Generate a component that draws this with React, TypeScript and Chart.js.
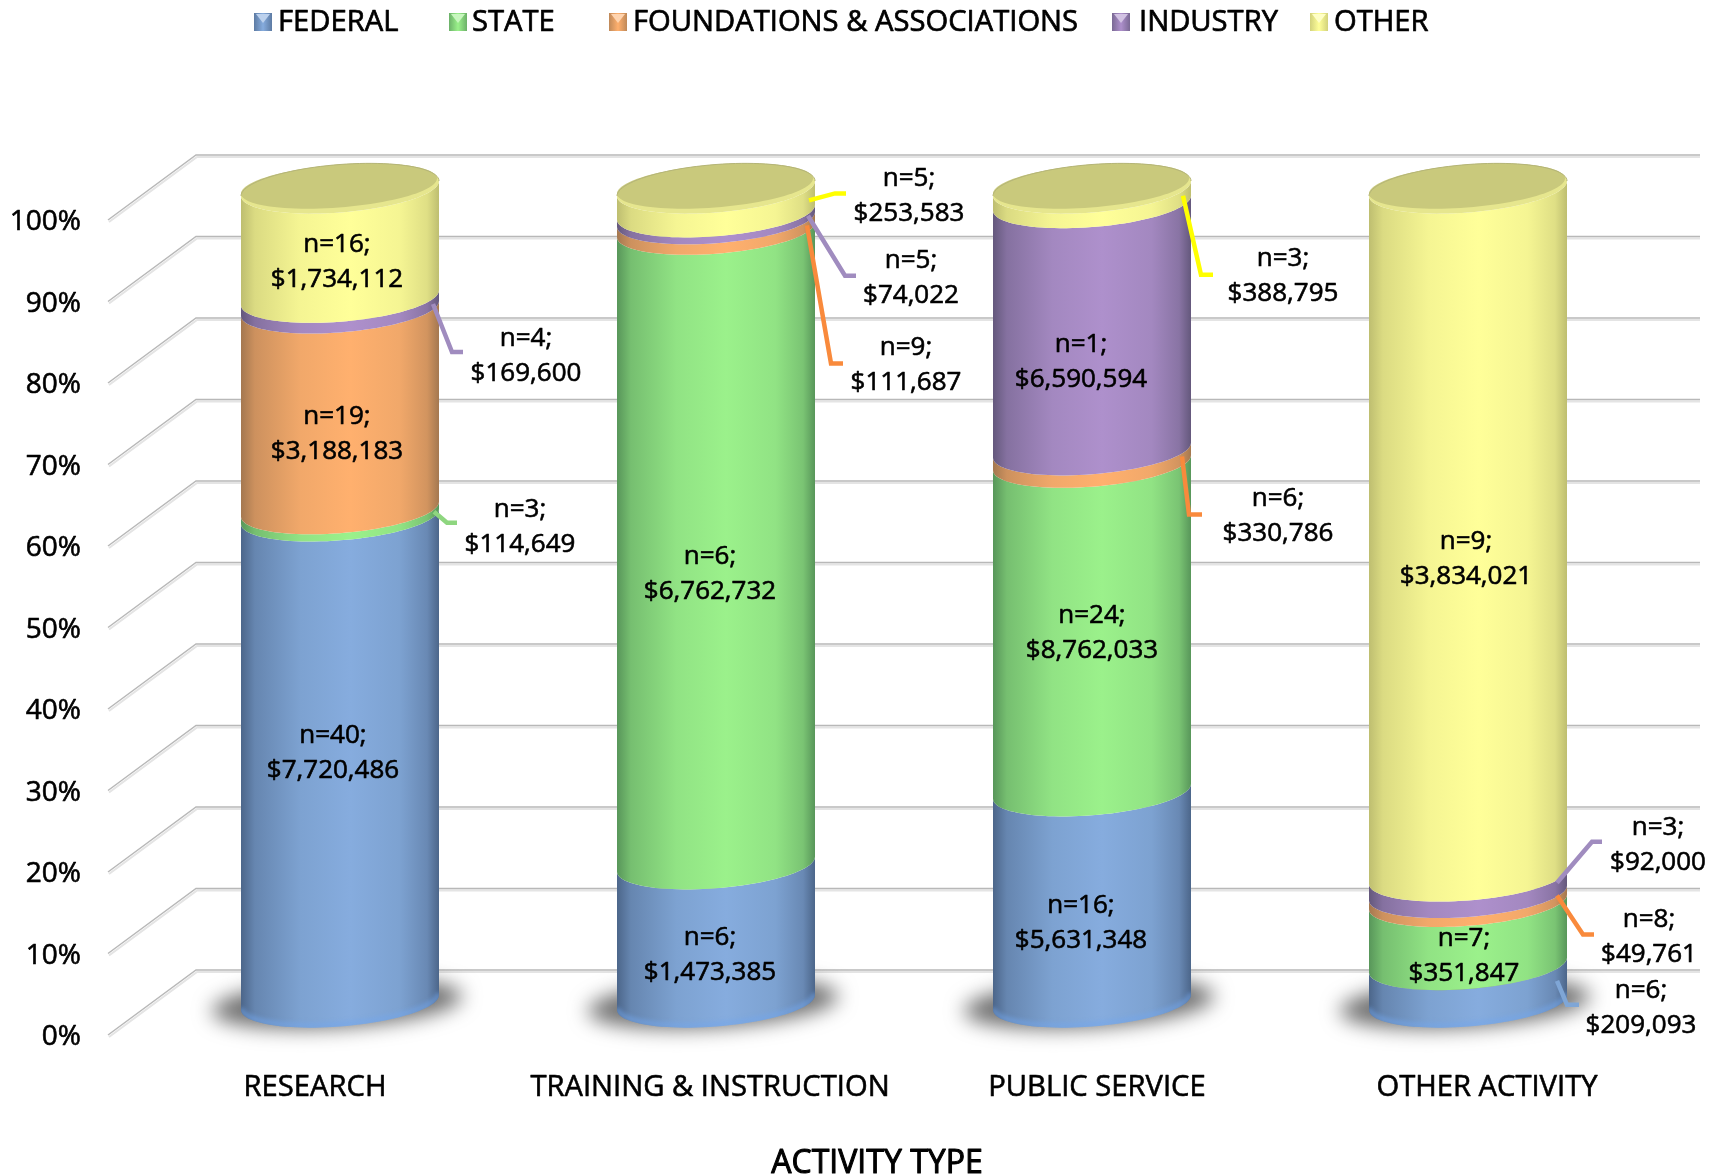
import React, { useEffect, useRef } from "react";
import { Chart, registerables } from "chart.js";

Chart.register(...registerables);

const categories = ["RESEARCH", "TRAINING & INSTRUCTION", "PUBLIC SERVICE", "OTHER ACTIVITY"];
const seriesNames = ["FEDERAL", "STATE", "FOUNDATIONS & ASSOCIATIONS", "INDUSTRY", "OTHER"];

const federalDollars = [7720486, 1473385, 5631348, 209093];
const stateDollars = [114649, 6762732, 8762033, 351847];
const foundationDollars = [3188183, 111687, 330786, 49761];
const industryDollars = [169600, 74022, 6590594, 92000];
const otherDollars = [1734112, 253583, 388795, 3834021];

const federalCounts = [40, 6, 16, 6];
const stateCounts = [3, 6, 24, 7];
const foundationCounts = [19, 9, 6, 8];
const industryCounts = [4, 5, 1, 3];
const otherCounts = [16, 5, 3, 9];

const yTickValues = [0, 10, 20, 30, 40, 50, 60, 70, 80, 90, 100];
const axisTitle = "ACTIVITY TYPE";

const dollars = [federalDollars, stateDollars, foundationDollars, industryDollars, otherDollars];
const counts = [federalCounts, stateCounts, foundationCounts, industryCounts, otherCounts];
const totals = categories.map((_, c) => dollars.reduce((sum, s) => sum + s[c], 0));

// ---- layout and style, separate from the data ----
const FONT = '"Open Sans", sans-serif';
const PALETTE = [
  { mid: [134, 172, 222], edge: [76, 102, 138], line: "#7FA6D6" },
  { mid: [155, 241, 139], edge: [88, 150, 90], line: "#8ED67F" },
  { mid: [255, 176, 110], edge: [164, 120, 80], line: "#F98A3C" },
  { mid: [174, 144, 204], edge: [100, 88, 124], line: "#A08CBF" },
  { mid: [255, 255, 153], edge: [190, 190, 112], line: "#FFFF00" },
];
// label offset from each segment's centre, [series][category]
const LABEL_OFFSETS = [
  [[-7, -6], [-6, 22], [-11, 26], [173, 24]],
  [[180, 14], [-6, 27], [0, 6], [-4, 23]],
  [[-3, 25], [190, 141], [186, 60], [181, 40]],
  [[186, 53], [195, 62], [-11, 35], [190, -40]],
  [[-3, 19], [193, -4], [191, 80], [-2, 27]],
];
// leader polylines relative to the segment's centre, [series][category]
const LEADERS: (number[][] | null)[][] = [
  [null, null, null, [[89, -3], [99, 21], [111, 21]]],
  [[[94, -1], [107, 10], [117, 10]], null, null, null],
  [null, [[91, 1], [115, 139], [127, 139]], [[90, 0], [97, 58], [110, 58]], [[89, -2], [115, 37], [126, 37]]],
  [[[93, 1], [112, 49], [123, 49]], [[92, 0], [129, 60], [140, 60]], null, [[89, -2], [124, -43], [134, -43]]],
  [null, [[93, 0], [119, -7], [130, -7]], [[91, 0], [109, 79], [121, 79]], null],
];
const LEGEND_BOX_X = [254, 449, 609, 1112, 1310];
const LEGEND_TEXT_X = [278, 472, 633, 1139, 1334];
const X_LABEL_SHIFT = [-25, -6, 5, 19];
const RX_TILT = 7.5;
const RY = 24;
const DEPTH_X = 44;
const DEPTH_Y = 32.5;

const mix = (a: number[], b: number[], t: number) =>
  `rgb(${a.map((v, i) => Math.round(v + (b[i] - v) * t)).join(",")})`;

function lowerArc(ctx: CanvasRenderingContext2D, cx: number, cy: number, a: number, forward: boolean) {
  const steps = 48;
  for (let i = 0; i <= steps; i++) {
    const t = forward ? Math.PI - (Math.PI * i) / steps : (Math.PI * i) / steps;
    ctx.lineTo(cx + a * Math.cos(t), cy + RY * Math.sin(t) - RX_TILT * Math.cos(t));
  }
}

function ellipse(ctx: CanvasRenderingContext2D, cx: number, cy: number, a: number, b: number, tilt: number) {
  ctx.beginPath();
  for (let i = 0; i <= 96; i++) {
    const t = (Math.PI * 2 * i) / 96;
    ctx.lineTo(cx + a * Math.cos(t), cy + b * Math.sin(t) - tilt * Math.cos(t));
  }
  ctx.closePath();
}

function strongText(ctx: CanvasRenderingContext2D, text: string, x: number, y: number, w: number) {
  ctx.lineWidth = w;
  ctx.strokeStyle = "#000";
  ctx.lineJoin = "round";
  ctx.strokeText(text, x, y);
  ctx.fillText(text, x, y);
}

const wallPlugin = {
  id: "wall",
  beforeDatasetsDraw(chart: any) {
    const { ctx, chartArea, scales } = chart;
    ctx.save();
    scales.y.ticks.forEach((_: any, i: number) => {
      const y = scales.y.getPixelForTick(i);
      const fx = chartArea.left - DEPTH_X;
      const bx = chartArea.left + DEPTH_X;
      const by = y - DEPTH_Y * 2;
      const rx = chartArea.right + DEPTH_X;
      ctx.lineWidth = 2;
      ctx.strokeStyle = "#E4E4E4";
      ctx.beginPath();
      ctx.moveTo(fx + 1, y + 2);
      ctx.lineTo(bx + 1, by + 2);
      ctx.lineTo(rx, by + 2);
      ctx.stroke();
      ctx.strokeStyle = "#B8B8B8";
      ctx.lineWidth = 1.5;
      ctx.beginPath();
      ctx.moveTo(fx, y);
      ctx.lineTo(bx, by);
      ctx.lineTo(rx, by);
      ctx.stroke();
    });
    ctx.restore();
  },
};

const cylinderPlugin = {
  id: "cylinders",
  afterDatasetsDraw(chart: any) {
    const { ctx } = chart;
    const metas = chart.data.datasets.map((_: any, i: number) => chart.getDatasetMeta(i));
    ctx.save();
    categories.forEach((_, c) => {
      const base = metas[0].data[c];
      const cx = base.x;
      const half = base.width / 2;
      // floor shadow
      ctx.save();
      ctx.filter = "blur(10px)";
      ctx.fillStyle = "rgba(85,85,85,0.85)";
      ellipse(ctx, cx - 3, base.base + 1, half + 26, 24, RX_TILT);
      ctx.fill();
      ctx.restore();
      // stacked segments, bottom to top
      metas.forEach((m: any, s: number) => {
        const el = m.data[c];
        const g = ctx.createLinearGradient(cx - half, 0, cx + half, 0);
        const { mid, edge } = PALETTE[s];
        g.addColorStop(0, mix(edge, mid, 0));
        g.addColorStop(0.07, mix(edge, mid, 0.45));
        g.addColorStop(0.3, mix(edge, mid, 0.85));
        g.addColorStop(0.55, mix(edge, mid, 1));
        g.addColorStop(0.8, mix(edge, mid, 0.85));
        g.addColorStop(0.94, mix(edge, mid, 0.5));
        g.addColorStop(1, mix(edge, mid, 0));
        ctx.fillStyle = g;
        ctx.beginPath();
        lowerArc(ctx, cx, el.base, half, true);
        lowerArc(ctx, cx, el.y, half, false);
        ctx.closePath();
        ctx.fill();
      });
      // lighter rim along the cylinder's foot, clipped to the cylinder
      ctx.save();
      ctx.beginPath();
      lowerArc(ctx, cx, base.base, half, true);
      lowerArc(ctx, cx, base.base - 30, half, false);
      ctx.closePath();
      ctx.clip();
      ctx.filter = "blur(2px)";
      ctx.strokeStyle = "rgba(115,165,235,0.55)";
      ctx.lineWidth = 6;
      ctx.beginPath();
      lowerArc(ctx, cx, base.base - 2, half, true);
      ctx.stroke();
      ctx.restore();
      // top cap
      const topY = metas[metas.length - 1].data[c].y;
      ellipse(ctx, cx, topY, half, RY, RX_TILT);
      ctx.fillStyle = "#E6E68E";
      ctx.fill();
      ellipse(ctx, cx - 1, topY - 2.5, half - 1, RY - 2.5, RX_TILT);
      ctx.fillStyle = "#C9C97C";
      ctx.fill();
      ctx.strokeStyle = "#B4B478";
      ctx.lineWidth = 1;
      ctx.beginPath();
      for (let i = 0; i <= 48; i++) {
        const t = Math.PI + (Math.PI * i) / 48;
        ctx.lineTo(cx + half * Math.cos(t), topY + RY * Math.sin(t) - RX_TILT * Math.cos(t));
      }
      ctx.stroke();
    });
    // leaders
    ctx.lineJoin = "miter";
    ctx.lineWidth = 4.5;
    metas.forEach((m: any, s: number) => {
      m.data.forEach((el: any, c: number) => {
        const path = LEADERS[s][c];
        if (!path) return;
        const my = (el.y + el.base) / 2;
        ctx.strokeStyle = PALETTE[s].line;
        ctx.beginPath();
        path.forEach(([dx, dy]) => ctx.lineTo(el.x + dx, my + dy));
        ctx.stroke();
      });
    });
    // data labels
    ctx.fillStyle = "#000";
    ctx.textAlign = "center";
    ctx.textBaseline = "middle";
    ctx.font = `26px ${FONT}`;
    metas.forEach((m: any, s: number) => {
      m.data.forEach((el: any, c: number) => {
        const [dx, dy] = LABEL_OFFSETS[s][c];
        const my = (el.y + el.base) / 2;
        strongText(ctx, `n=${counts[s][c]};`, el.x + dx, my + dy - 17.5, 0.6);
        strongText(ctx, `$${dollars[s][c].toLocaleString("en-US")}`, el.x + dx, my + dy + 17.5, 0.6);
      });
    });
    ctx.restore();
  },
  afterDraw(chart: any) {
    const { ctx, scales } = chart;
    ctx.save();
    ctx.fillStyle = "#000";
    ctx.textBaseline = "middle";
    // value axis labels
    ctx.font = `28px ${FONT}`;
    ctx.textAlign = "right";
    scales.y.ticks.forEach((tick: any, i: number) => {
      strongText(ctx, `${tick.value}%`, 81, scales.y.getPixelForTick(i) + 2.2, 0.6);
    });
    // category labels
    ctx.font = `29.2px ${FONT}`;
    ctx.textAlign = "center";
    categories.forEach((label, i) => {
      strongText(ctx, label, scales.x.getPixelForTick(i) + X_LABEL_SHIFT[i], 1088, 0.6);
    });
    ctx.font = `32px ${FONT}`;
    strongText(ctx, axisTitle, 877, 1164, 1);
    ctx.font = `29.2px ${FONT}`;
    // legend
    ctx.textAlign = "left";
    seriesNames.forEach((name, s) => {
      const x = LEGEND_BOX_X[s];
      const { mid, edge } = PALETTE[s];
      const g = ctx.createLinearGradient(x, 0, x + 18, 0);
      g.addColorStop(0, mix(edge, mid, 0.3));
      g.addColorStop(0.5, mix(edge, mid, 1));
      g.addColorStop(1, mix(edge, mid, 0.3));
      ctx.fillStyle = g;
      ctx.fillRect(x, 13, 18, 18);
      ctx.fillStyle = mix(mid, [255, 255, 255], 0.45);
      ctx.beginPath();
      ctx.moveTo(x + 2, 14);
      ctx.lineTo(x + 16, 14);
      ctx.lineTo(x + 9, 23);
      ctx.closePath();
      ctx.fill();
      ctx.fillStyle = "#000";
      strongText(ctx, name, LEGEND_TEXT_X[s], 23, 0.7);
    });
    ctx.restore();
  },
};

export default function App() {
  const ref = useRef<HTMLCanvasElement>(null);
  useEffect(() => {
    const chart = new Chart(ref.current as HTMLCanvasElement, {
      type: "bar",
      data: {
        labels: categories,
        datasets: seriesNames.map((name, s) => ({
          label: name,
          data: dollars[s].map((v, c) => (v / totals[c]) * 100),
          backgroundColor: "rgba(0,0,0,0)",
          borderWidth: 0,
          yAxisID: "yBar",
          stack: "all",
          categoryPercentage: 1,
          barPercentage: 198 / 376,
        })),
      },
      options: {
        responsive: false,
        animation: false,
        layout: { padding: { top: 220, bottom: 141, left: 0, right: 61 } },
        plugins: { legend: { display: false }, tooltip: { enabled: false }, title: { display: false } },
        scales: {
          x: {
            stacked: true,
            grid: { display: false },
            border: { display: false },
            ticks: { display: false },
            afterFit(scale: any) {
              scale.height = 0;
            },
          },
          y: {
            min: 0,
            max: 100,
            afterBuildTicks(scale: any) {
              scale.ticks = yTickValues.map((value) => ({ value }));
            },
            afterFit(scale: any) {
              scale.width = 152;
            },
            grid: { display: false },
            border: { display: false },
            ticks: { display: false },
          },
          yBar: { display: false, stacked: true, min: -3.99, max: 96.13 },
        },
      },
      plugins: [wallPlugin, cylinderPlugin],
    } as any);
    return () => chart.destroy();
  }, []);
  return (
    <canvas
      ref={ref}
      width={1717}
      height={1176}
      style={{ position: "absolute", left: 0, top: 0, width: 1717, height: 1176, background: "#fff" }}
    />
  );
}
